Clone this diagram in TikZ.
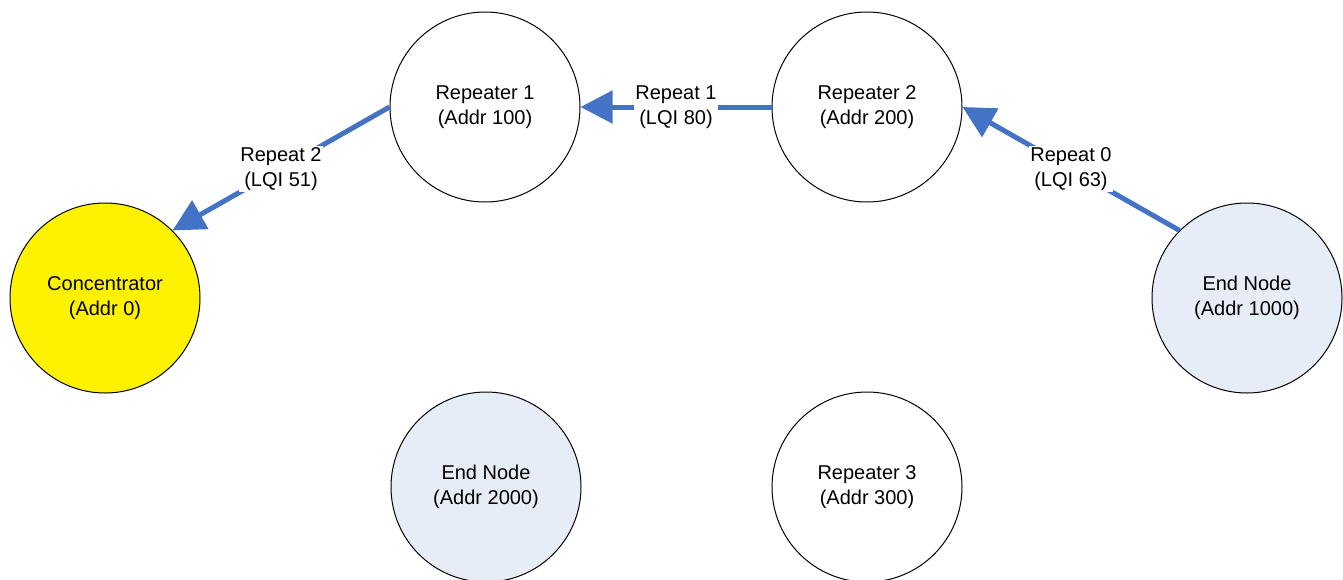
\documentclass[tikz,border=0pt]{standalone}
\usepackage{fontspec}
\setmainfont{Liberation Sans}
\usetikzlibrary{arrows.meta}
\definecolor{arrowblue}{RGB}{68,114,196}
\definecolor{endfill}{RGB}{231,237,247}
\begin{document}
\begin{tikzpicture}[x=0.75pt,y=-0.75pt,
  station/.style={circle, draw=black, line width=0.75pt, minimum size=142.5pt, inner sep=0pt, align=center, font=\fontsize{15}{18.75}\selectfont, fill=white},
  endnode/.style={station, fill=endfill},
  concnode/.style={station, fill=yellow},
  conn/.style={draw=arrowblue, line width=3.75pt, -{Triangle[length=24pt,width=24pt]}},
  lbl/.style={fill=white, inner sep=1pt, align=center, font=\fontsize{15}{18.75}\selectfont, text=black}]
\useasboundingbox (0,0) rectangle (1343,579);
\clip (0,0) rectangle (1343,579);
\node[station] (rep1) at (485,107) {Repeater 1\\(Addr 100)};
\node[station] (rep2) at (867,107) {Repeater 2\\(Addr 200)};
\node[concnode] (conc) at (105,298) {Concentrator\\(Addr 0)};
\node[endnode] (end1) at (1247,298) {End Node\\(Addr 1000)};
\node[endnode] (end2) at (486,487) {End Node\\(Addr 2000)};
\node[station] (rep3) at (867,487) {Repeater 3\\(Addr 300)};
\draw[conn] (rep2.west) -- node[lbl] {Repeat 1\\(LQI 80)} (rep1.east);
\draw[conn] (rep1.west) -- node[lbl] {Repeat 2\\(LQI 51)} (conc.north east);
\draw[conn] (end1.north west) -- node[lbl] {Repeat 0\\(LQI 63)} (rep2.east);
\end{tikzpicture}
\end{document}
